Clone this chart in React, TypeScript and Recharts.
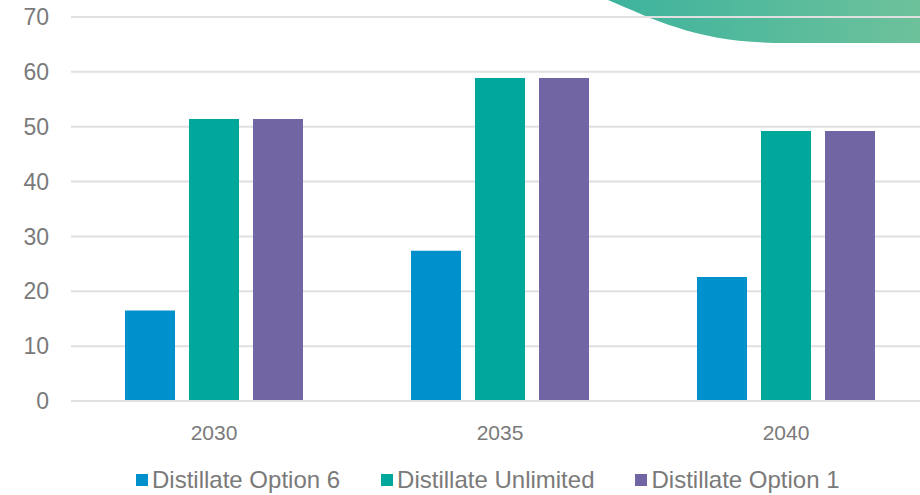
import React from "react";
import { BarChart, Bar, XAxis, YAxis, CartesianGrid, Legend } from "recharts";

// Demand by year for each distillate scenario
const years = ["2030", "2035", "2040"];
const option6 = [16.5, 27.4, 22.6];
const unlimited = [51.4, 58.9, 49.2];
const option1 = [51.4, 58.9, 49.2];
const yTicks = [0, 10, 20, 30, 40, 50, 60, 70];
const seriesNames = ["Distillate Option 6", "Distillate Unlimited", "Distillate Option 1"];

const data = years.map((year, i) => ({
  year,
  option6: option6[i],
  unlimited: unlimited[i],
  option1: option1[i],
}));

const TEXT = "#7a7a7a";
const GRID = "#e0e0e0";

const LegendRow = (props: any) => {
  const payload = [...(props.payload || [])].sort(
    (a: any, b: any) => seriesNames.indexOf(a.value) - seriesNames.indexOf(b.value)
  );
  return (
    <div
      style={{
        display: "flex",
        alignItems: "center",
        height: 30,
        paddingLeft: 136,
        fontFamily: "'Liberation Sans', Arial, sans-serif",
        fontSize: 24,
        color: TEXT,
      }}
    >
      {payload.map((entry: any, i: number) => (
        <div
          key={entry.value}
          style={{ display: "flex", alignItems: "center", marginRight: i < payload.length - 1 ? 41 : 0 }}
        >
          <span style={{ width: 12, height: 12, background: entry.color, marginRight: 4, display: "inline-block" }} />
          <span style={{ lineHeight: "30px" }}>{entry.value}</span>
        </div>
      ))}
    </div>
  );
};

const App = () => {
  return (
    <div style={{ position: "absolute", left: 0, top: 0, width: 920, height: 495, overflow: "hidden", background: "#fff" }}>
      {/* decorative wave in the top-right corner */}
      <svg width={920} height={495} style={{ position: "absolute", left: 0, top: 0 }}>
        <defs>
          <linearGradient id="wave" x1="0" y1="0" x2="1" y2="0">
            <stop offset="0%" stopColor="#3db39d" />
            <stop offset="100%" stopColor="#6dc19b" />
          </linearGradient>
        </defs>
        <path d="M 608 0 C 660 22, 700 43, 785 43 L 920 43 L 920 0 Z" fill="url(#wave)" />
      </svg>
      <div style={{ position: "absolute", left: 0, top: 0 }}>
        <BarChart
          width={929}
          height={495}
          data={data}
          margin={{ top: 17, right: 0, bottom: 0, left: 0 }}
          barSize={50}
          barGap={14}
          style={{ fontFamily: "'Liberation Sans', Arial, sans-serif" }}
        >
          <CartesianGrid vertical={false} stroke={GRID} strokeWidth={2} />
          <XAxis
            dataKey="year"
            height={64}
            axisLine={{ stroke: GRID, strokeWidth: 2 }}
            tickLine={false}
            tickMargin={18}
            tick={{ fill: TEXT, fontSize: 21 }}
          />
          <YAxis
            width={71}
            domain={[0, 70]}
            ticks={yTicks}
            axisLine={false}
            tickLine={false}
            tickMargin={16}
            tick={{ fill: TEXT, fontSize: 23 }}
          />
          <Legend verticalAlign="bottom" content={<LegendRow />} />
          <Bar dataKey="option6" name={seriesNames[0]} fill="#0090cb" isAnimationActive={false} />
          <Bar dataKey="unlimited" name={seriesNames[1]} fill="#00a89c" isAnimationActive={false} />
          <Bar dataKey="option1" name={seriesNames[2]} fill="#7166a3" isAnimationActive={false} />
        </BarChart>
      </div>
    </div>
  );
};

export default App;
